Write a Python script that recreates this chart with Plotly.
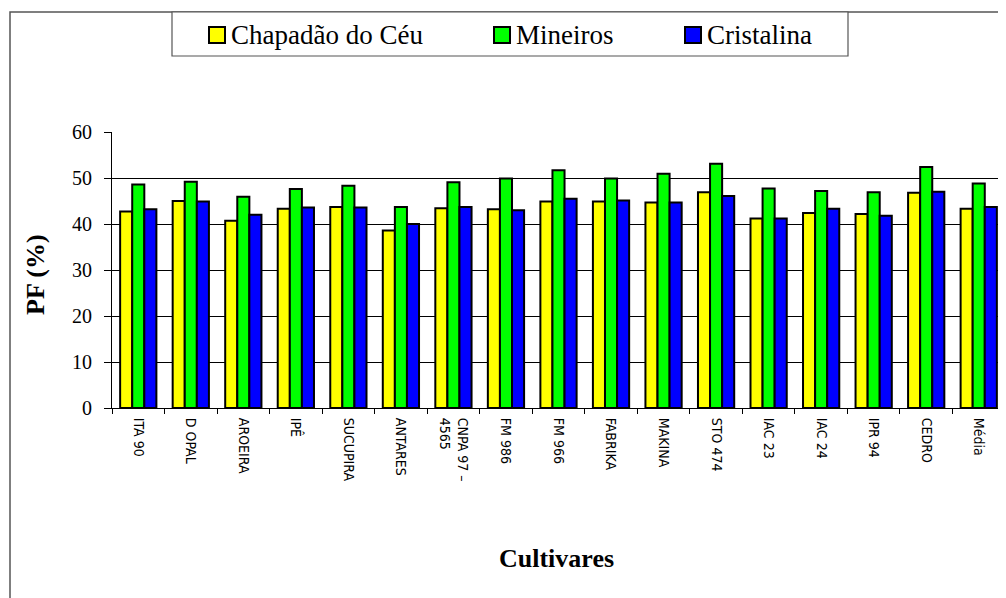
import plotly.graph_objects as go

cultivares = ["ITA 90", "D OPAL", "AROEIRA", "IPÊ", "SUCUPIRA", "ANTARES",
              "CNPA 97 –<br>4565", "FM 986", "FM 966", "FABRIKA", "MAKINA",
              "STO 474", "IAC 23", "IAC 24", "IPR 94", "CEDRO", "Média"]
chapadao = [42.7, 45.0, 40.7, 43.3, 43.7, 38.6, 43.4, 43.2, 44.9, 44.9, 44.7,
            46.9, 41.2, 42.4, 42.2, 46.8, 43.3]
mineiros = [48.6, 49.2, 45.9, 47.6, 48.3, 43.7, 49.1, 49.9, 51.7, 49.9, 50.9,
            53.1, 47.7, 47.2, 46.9, 52.4, 48.8]
cristalina = [43.2, 44.9, 42.0, 43.6, 43.6, 40.0, 43.7, 43.0, 45.5, 45.1, 44.7,
              46.1, 41.2, 43.3, 41.8, 47.0, 43.7]
series_names = ["Chapadão do Céu", "Mineiros", "Cristalina"]
series_colors = ["#FFFF00", "#00FF00", "#0000FF"]
y_ticks = [0, 10, 20, 30, 40, 50, 60]

# page body has an 8px margin, so the figure is offset by OFF
OFF = 8
W, H = 1006 - OFF, 598 - OFF
L, R, T = 112 - OFF, 1, 132 - OFF
PH = 276
B = H - T - PH
PW = W - L - R


def px(x):
    return (x - OFF - L) / PW


def py(y):
    return (T + PH - (y - OFF)) / PH


serif = "Liberation Serif, Tinos, Times New Roman, DejaVu Serif, serif"
narrow = "Liberation Sans Narrow, DejaVu Sans Condensed, Liberation Sans"

fig = go.Figure()
for name, vals, col in zip(series_names, [chapadao, mineiros, cristalina], series_colors):
    fig.add_trace(go.Bar(x=cultivares, y=vals, name=name,
                         marker=dict(color=col, line=dict(color="black", width=2)),
                         showlegend=False))

shapes = []
annotations = []
# outer frame
shapes.append(dict(type="path", xref="paper", yref="paper",
                   path=f"M {px(10)} {py(H + 20)} L {px(10)} {py(12)} L {px(W + 20)} {py(12)}",
                   line=dict(color="#555555", width=1.5)))
# legend box
shapes.append(dict(type="rect", xref="paper", yref="paper",
                   x0=px(172), x1=px(848), y0=py(56), y1=py(12),
                   fillcolor="white", line=dict(color="#555555", width=1.2)))
leg_x = [208, 493, 684]
for lx, name, col in zip(leg_x, series_names, series_colors):
    shapes.append(dict(type="rect", xref="paper", yref="paper",
                       x0=px(lx + 1), x1=px(lx + 17), y0=py(43), y1=py(27),
                       fillcolor=col, line=dict(color="black", width=2)))
    annotations.append(dict(x=px(lx + 21), y=py(35), xref="paper", yref="paper",
                            text=name, showarrow=False, xanchor="left", yanchor="middle",
                            font=dict(family=serif, size=27, color="black")))
# axis titles
annotations.append(dict(x=px(35), y=py(275), xref="paper", yref="paper",
                        text="<b>PF (%)</b>", textangle=-90, showarrow=False,
                        xanchor="center", yanchor="middle",
                        font=dict(family=serif, size=26, color="black")))
annotations.append(dict(x=px(556), y=py(558), xref="paper", yref="paper",
                        text="<b>Cultivares</b>", showarrow=False,
                        xanchor="center", yanchor="middle",
                        font=dict(family=serif, size=26, color="black")))

fig.update_layout(
    width=W, height=H,
    margin=dict(l=L, r=R, t=T, b=B, pad=0),
    paper_bgcolor="white", plot_bgcolor="white",
    barmode="group", bargap=0.31, bargroupgap=0,
    shapes=shapes, annotations=annotations,
    xaxis=dict(type="category", showline=True, linecolor="black", linewidth=1,
               ticks="outside", tickson="boundaries", ticklen=5, tickcolor="black",
               tickangle=90, showgrid=False, zeroline=False, ticklabelstandoff=6,
               tickfont=dict(family=narrow, size=14, color="black")),
    yaxis=dict(range=[0, 60], tickvals=y_ticks, showline=True, linecolor="black",
               linewidth=1, ticks="outside", ticklen=7, tickcolor="black",
               showgrid=True, gridcolor="black", gridwidth=1, zeroline=False,
               ticklabelstandoff=8,
               tickfont=dict(family=serif, size=20, color="black")),
)
fig.write_html("out.html")
